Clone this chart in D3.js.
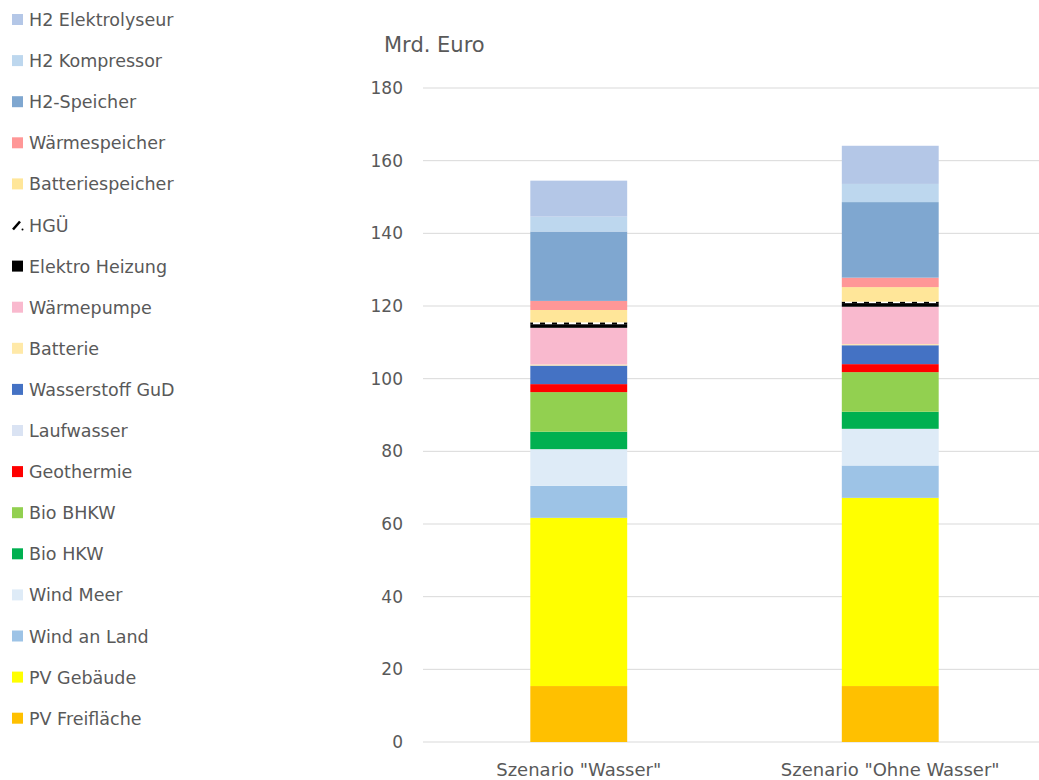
<!DOCTYPE html>
<html>
<head>
<meta charset="utf-8">
<script src="https://cdn.jsdelivr.net/npm/d3@7"></script>
<style>
  body { margin: 0; background: #fff; }
  text { font-family: "DejaVu Sans", sans-serif; fill: #595959; }
</style>
</head>
<body>
<div id="chart"></div>
<script>
// scenarios
const scenarios = ['Szenario "Wasser"', 'Szenario "Ohne Wasser"'];

// stack order, bottom to top
const series = [
  'PV Freifläche', 'PV Gebäude', 'Wind an Land', 'Wind Meer', 'Bio HKW', 'Bio BHKW',
  'Geothermie', 'Laufwasser', 'Wasserstoff GuD', 'Batterie', 'Wärmepumpe',
  'Elektro Heizung', 'HGÜ', 'Batteriespeicher', 'Wärmespeicher', 'H2-Speicher',
  'H2 Kompressor', 'H2 Elektrolyseur'
];

const colors = [
  '#FFC000', '#FFFF00', '#9DC3E6', '#DEEBF7', '#00B050', '#92D050',
  '#FF0000', '#DAE3F3', '#4472C4', '#FFE9A8', '#F9B9CE',
  '#000000', 'url(#hgu)', '#FFE699', '#FF9797', '#7FA7D0',
  '#BDD7EE', '#B4C7E7'
];

// Mrd. Euro per series, one entry per scenario
const valuesWasser =     [15.4, 46.3, 8.8, 10.1, 4.8, 10.9, 2.2, 0, 5.1, 0.3, 10.1, 1.0, 0.5, 3.4, 2.5, 19.1, 4.1, 9.9];
const valuesOhneWasser = [15.4, 51.8, 8.9, 10.1, 4.7, 10.9, 2.2, 0, 5.2, 0.3, 10.3, 1.0, 0.4, 4.0, 2.6, 20.8, 5.0, 10.5];

const yTicks = [0, 20, 40, 60, 80, 100, 120, 140, 160, 180];

const width = 1039, height = 780;
const svg = d3.select('#chart').append('svg')
  .attr('width', width).attr('height', height);

const defs = svg.append('defs');
const pat = defs.append('pattern')
  .attr('id', 'hgu').attr('patternUnits', 'userSpaceOnUse')
  .attr('width', 12).attr('height', 4);
pat.append('rect').attr('width', 12).attr('height', 4).attr('fill', '#fff');
pat.append('rect').attr('width', 5).attr('height', 4).attr('fill', '#000');

const y = d3.scaleLinear().domain([0, 180]).range([742, 88]);
const x = d3.scaleBand().domain(scenarios).range([423, 1046])
  .paddingInner(0.689).paddingOuter(0.689 / 2);

// gridlines
svg.append('g')
  .selectAll('line').data(yTicks).join('line')
  .attr('x1', 423).attr('x2', width)
  .attr('y1', d => y(d)).attr('y2', d => y(d))
  .attr('stroke', '#D9D9D9').attr('stroke-width', 1);

// y axis labels
const yAxis = d3.axisLeft(y).tickValues(yTicks).tickSize(0).tickPadding(20);
const ya = svg.append('g').attr('transform', 'translate(423,0)').call(yAxis);
ya.select('.domain').remove();
ya.selectAll('text').style('font-size', '17px').attr('fill', '#595959')
  .style('font-family', '"DejaVu Sans", sans-serif');

svg.append('text').attr('x', 384).attr('y', 52)
  .style('font-size', '21px').text('Mrd. Euro');

// stacked data
const table = scenarios.map((s, i) => {
  const row = { scenario: s };
  const vals = i === 0 ? valuesWasser : valuesOhneWasser;
  series.forEach((k, j) => { row[k] = vals[j]; });
  return row;
});
const stacked = d3.stack().keys(series)(table);

svg.append('g').selectAll('g').data(stacked).join('g')
  .attr('fill', (d, i) => colors[i])
  .selectAll('rect').data(d => d).join('rect')
  .attr('x', d => x(d.data.scenario))
  .attr('width', x.bandwidth())
  .attr('y', d => y(d[1]))
  .attr('height', d => Math.max(0, y(d[0]) - y(d[1])));

// x labels
svg.append('g').selectAll('text').data(scenarios).join('text')
  .attr('x', d => x(d) + x.bandwidth() / 2)
  .attr('y', 776)
  .attr('text-anchor', 'middle')
  .style('font-size', '18px')
  .text(d => d);

// legend, top to bottom
const legendItems = series.map((s, i) => ({ name: s, color: colors[i] })).reverse();
const lg = svg.append('g').selectAll('g').data(legendItems).join('g')
  .attr('transform', (d, i) => `translate(12, ${19 + i * 41.1})`);

lg.filter(d => d.name !== 'HGÜ').append('rect')
  .attr('x', 0).attr('y', -5).attr('width', 11).attr('height', 11)
  .attr('fill', d => d.color);

const hg = lg.filter(d => d.name === 'HGÜ');
hg.append('line').attr('x1', 1).attr('y1', 5).attr('x2', 8).attr('y2', -3)
  .attr('stroke', '#000').attr('stroke-width', 2.5);
hg.append('circle').attr('cx', 10.5).attr('cy', 5).attr('r', 1).attr('fill', '#000');

lg.append('text').attr('x', 17).attr('y', 7)
  .style('font-size', '17.5px')
  .text(d => d.name);
</script>
</body>
</html>
